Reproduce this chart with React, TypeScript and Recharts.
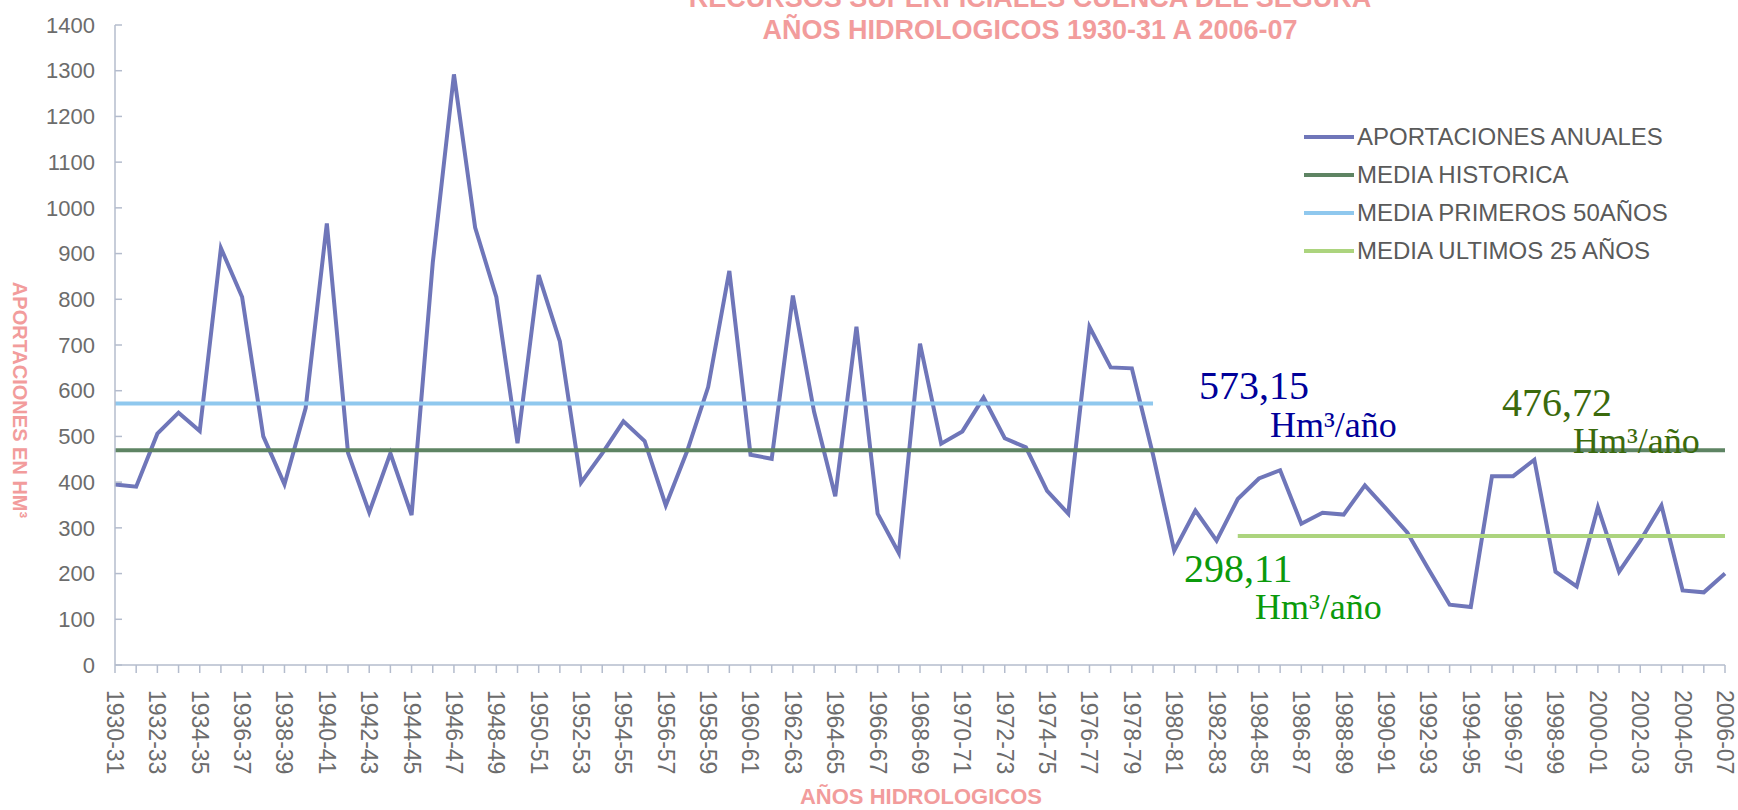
import { Legend, Line, LineChart, XAxis, YAxis } from "recharts"

const firstYear = 1930
const years = Array.from({ length: 77 }, (_, i) => {
  const y = firstYear + i
  return `${y}-${String((y + 1) % 100).padStart(2, "0")}`
})

// Hm3 per hydrological year
const aportaciones = [
  395, 390, 506, 552, 512, 912, 805, 500, 395, 562,
  966, 464, 334, 463, 328, 880, 1292, 957, 805, 485,
  853, 708, 399, 463, 533, 490, 349, 467, 608, 862,
  460, 451, 808, 554, 369, 740, 331, 245, 703, 484,
  511, 585, 496, 476, 381, 331, 740, 651, 649, 460,
  250, 338, 272, 363, 408, 426, 309, 333, 329, 393,
  342, 290, 210, 132, 127, 413, 413, 449, 204, 172,
  345, 204, 272, 349, 163, 159, 200,
]

const mediaHistorica = 470
const mediaPrimeros = 572
const mediaUltimos = 282
const primerosHasta = "1979-80"
const ultimosDesde = "1983-84"

const yTicks = [0, 100, 200, 300, 400, 500, 600, 700, 800, 900, 1000, 1100, 1200, 1300, 1400]

const data = years.map((year, i) => ({
  year,
  aportaciones: aportaciones[i],
  historica: mediaHistorica,
  primeros: i <= years.indexOf(primerosHasta) ? mediaPrimeros : null,
  ultimos: i >= years.indexOf(ultimosDesde) ? mediaUltimos : null,
}))

const SANS = '"Liberation Sans", Arial, sans-serif'
const SERIF = '"Liberation Serif", "Times New Roman", serif'
const AXIS = "#b4bccd"
const TICK_TEXT = "#6c6c6c"
const PINK = "#f29c9c"

const XTick = (props: any) => {
  const { x, y, payload } = props
  if (years.indexOf(payload.value) % 2 !== 0) return null
  return (
    <text
      x={x}
      y={y}
      transform={`rotate(90, ${x}, ${y})`}
      textAnchor="start"
      dy="0.35em"
      fill={TICK_TEXT}
      fontSize={23}
      fontFamily={SANS}
    >
      {payload.value}
    </text>
  )
}

const YTick = (props: any) => {
  const { x, y, payload } = props
  return (
    <g>
      <line x1={x + 20} x2={x + 27} y1={y} y2={y} stroke={AXIS} strokeWidth={1.5} />
      <text x={x} y={y} textAnchor="end" dy="0.35em" fill={TICK_TEXT} fontSize={22} fontFamily={SANS}>
        {payload.value}
      </text>
    </g>
  )
}

const LegendBox = ({ payload }: any) => (
  <div style={{ fontFamily: SANS, fontSize: 24, color: "#5a5a5a" }}>
    {(payload || []).map((p: any) => (
      <div key={p.value} style={{ display: "flex", alignItems: "center", height: 38, whiteSpace: "nowrap" }}>
        <span style={{ display: "inline-block", width: 50, height: 4, background: p.color, marginRight: 3 }} />
        {p.value}
      </div>
    ))}
  </div>
)

export default function App() {
  return (
    <div style={{ position: "absolute", left: 0, top: 0, width: 1738, height: 810, background: "#fff" }}>
      <LineChart width={1738} height={810} data={data} margin={{ top: 25, right: 13, bottom: 0, left: 0 }}>
        <XAxis
          dataKey="year"
          interval={0}
          height={145}
          tick={<XTick />}
          tickSize={8}
          tickMargin={17}
          tickLine={{ stroke: AXIS, strokeWidth: 1.5 }}
          axisLine={{ stroke: AXIS, strokeWidth: 1.5 }}
        />
        <YAxis
          domain={[0, 1400]}
          ticks={yTicks}
          interval={0}
          width={115}
          tick={<YTick />}
          tickSize={0}
          tickMargin={20}
          tickLine={false}
          axisLine={{ stroke: AXIS, strokeWidth: 1.5 }}
        />
        <Legend
          layout="vertical"
          verticalAlign="middle"
          align="center"
          content={<LegendBox />}
          wrapperStyle={{ position: "absolute", left: 1304, top: 118, width: 420 }}
        />
        <Line
          name="APORTACIONES ANUALES"
          dataKey="aportaciones"
          stroke="#6f76b9"
          strokeWidth={4}
          dot={false}
          isAnimationActive={false}
        />
        <Line
          name="MEDIA HISTORICA"
          dataKey="historica"
          stroke="#5e8463"
          strokeWidth={4}
          dot={false}
          isAnimationActive={false}
        />
        <Line
          name="MEDIA PRIMEROS 50AÑOS"
          dataKey="primeros"
          stroke="#8fc8ee"
          strokeWidth={4}
          dot={false}
          isAnimationActive={false}
        />
        <Line
          name="MEDIA ULTIMOS 25 AÑOS"
          dataKey="ultimos"
          stroke="#acd47e"
          strokeWidth={4}
          dot={false}
          isAnimationActive={false}
        />
      </LineChart>
      <svg
        width={1738}
        height={810}
        style={{ position: "absolute", left: 0, top: 0, pointerEvents: "none" }}
      >
        <g fontFamily={SANS} fill={PINK} fontSize={27} fontWeight="bold" textAnchor="middle">
          <text x={1030} y={7}>RECURSOS SUPERFICIALES CUENCA DEL SEGURA</text>
          <text x={1030} y={39}>AÑOS HIDROLOGICOS 1930-31 A 2006-07</text>
        </g>
        <text x={921} y={804} fontFamily={SANS} fontSize={22} fontWeight="bold" fill={PINK} textAnchor="middle">
          AÑOS HIDROLOGICOS
        </text>
        <text
          x={20}
          y={400}
          transform="rotate(90, 20, 400)"
          fontFamily={SANS}
          fontSize={20}
          fontWeight="bold"
          fill={PINK}
          textAnchor="middle"
          dy="0.35em"
        >
          APORTACIONES EN HM³
        </text>
        <g fontFamily={SERIF}>
          <text x={1199} y={399} fontSize={40} fill="#000099">573,15</text>
          <text x={1270} y={437} fontSize={36} fill="#000099">Hm³/año</text>
          <text x={1502} y={416} fontSize={40} fill="#3b6a0c">476,72</text>
          <text x={1573} y={453} fontSize={36} fill="#3b6a0c">Hm³/año</text>
          <text x={1184} y={582} fontSize={40} fill="#0b9a0b">298,11</text>
          <text x={1255} y={619} fontSize={36} fill="#0b9a0b">Hm³/año</text>
        </g>
      </svg>
    </div>
  )
}
